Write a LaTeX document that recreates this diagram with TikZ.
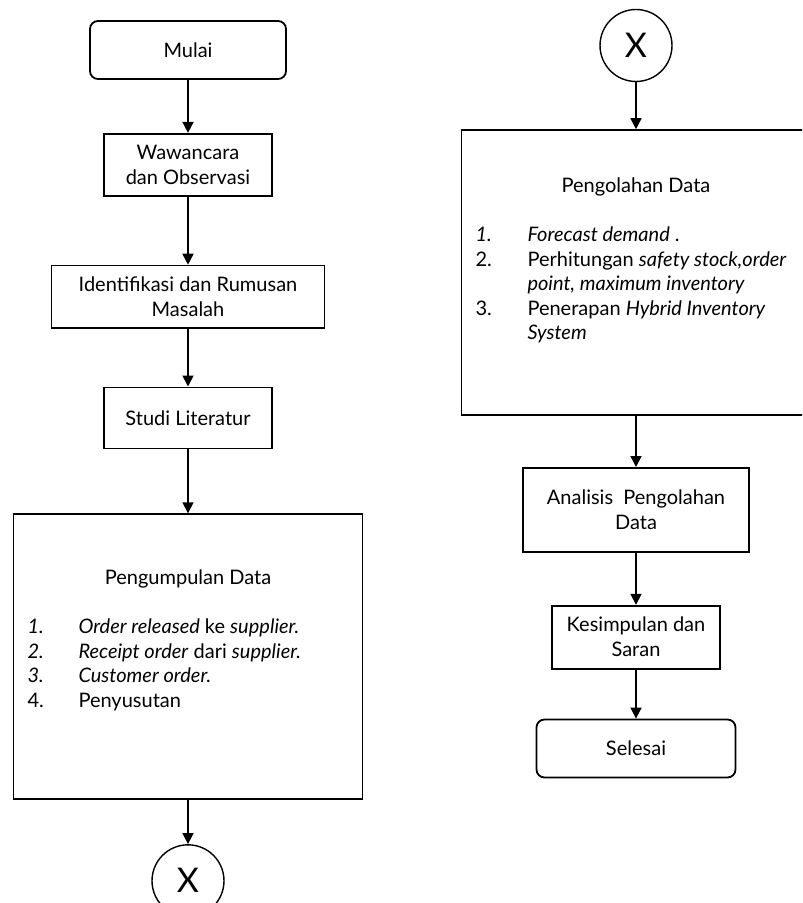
\documentclass[tikz,border=0pt]{standalone}
\usepackage{fontspec}
\setmainfont{Lato}
\usepackage{array}
\usetikzlibrary{positioning, arrows.meta, shapes.geometric}
\newcommand{\bodyfont}{\fontsize{10}{12.5}\selectfont}
\tikzset{
  terminal/.style={
    rectangle, rounded corners=4pt, draw, line width=0.9pt,
    minimum width=98pt, minimum height=29pt, font=\bodyfont
  },
  process/.style={
    rectangle, draw, line width=0.9pt, align=center,
    inner sep=1pt, minimum height=31pt, font=\bodyfont
  },
  bigbox/.style={process, minimum width=174.5pt, minimum height=142.5pt, inner sep=0pt},
  pageconn/.style={
    circle, draw, line width=0.7pt, minimum size=36pt, inner sep=0pt,
    font=\fontsize{17}{20}\selectfont
  },
  flow/.style={-{Triangle[length=5.5pt,width=5.5pt]}, line width=0.8pt},
}
\begin{document}
\begin{tikzpicture}[node distance=26pt]
  \useasboundingbox (0,0) rectangle (401pt,-451.5pt);
  \clip (0,0) rectangle (401pt,-451.5pt);

  % kolom kiri
  \node[terminal] (mulai) at (94pt,-25pt) {Mulai};
  \node[process, minimum width=84pt, below=26.5pt of mulai] (wawancara) {Wawancara\\dan Observasi};
  \node[process, minimum width=136.5pt, below=34pt of wawancara] (identifikasi) {Identifikasi dan Rumusan\\Masalah};
  \node[process, minimum width=84pt, minimum height=30.5pt, below=29pt of identifikasi] (studi) {Studi Literatur};
  \node[bigbox, below=32pt of studi] (pengumpulan) {%
    \fontsize{10}{12.25}\selectfont
    \begin{tabular}{@{}p{25.5pt}@{}>{\raggedright\arraybackslash}p{135pt}@{}}
      \multicolumn{2}{@{}c@{}}{Pengumpulan Data}\\[12.25pt]
      \textit{1.} & \textit{Order released} ke \textit{supplier.}\\
      \textit{2.} & \textit{Receipt order} dari \textit{supplier.}\\
      \textit{3.} & \textit{Customer order.}\\
      4. & Penyusutan\\[15.5pt]
    \end{tabular}};
  \node[pageconn, below=22pt of pengumpulan] (xbawah) {X};

  % kolom kanan
  \node[pageconn] (xatas) at (318pt,-22.75pt) {X};
  \node[bigbox, below=23.5pt of xatas] (pengolahan) {%
    \fontsize{10}{12.25}\selectfont
    \begin{tabular}{@{}p{26pt}@{}>{\raggedright\arraybackslash}p{134.5pt}@{}}
      \multicolumn{2}{@{}c@{}}{Pengolahan Data}\\[12.25pt]
      \textit{1.} & \textit{Forecast demand} .\\
      2. & Perhitungan \textit{safety stock,order}\newline\textit{point, maximum inventory}\\
      3. & Penerapan \textit{Hybrid Inventory}\newline\textit{System}\\[23.5pt]
    \end{tabular}};
  \node[process, minimum width=113pt, minimum height=42pt, below=25.5pt of pengolahan] (analisis) {Analisis\ \ Pengolahan\\Data};
  \node[process, minimum width=84pt, minimum height=31.5pt, below=26pt of analisis] (kesimpulan) {Kesimpulan dan\\Saran};
  \node[terminal, minimum width=99.5pt, below=24.5pt of kesimpulan] (selesai) {Selesai};

  \draw[flow] (mulai) -- (wawancara);
  \draw[flow] (wawancara) -- (identifikasi);
  \draw[flow] (identifikasi) -- (studi);
  \draw[flow] (studi) -- (pengumpulan);
  \draw[flow] (pengumpulan) -- (xbawah);

  \draw[flow] (xatas) -- (pengolahan);
  \draw[flow] (pengolahan) -- (analisis);
  \draw[flow] (analisis) -- (kesimpulan);
  \draw[flow] (kesimpulan) -- (selesai);
\end{tikzpicture}
\end{document}
